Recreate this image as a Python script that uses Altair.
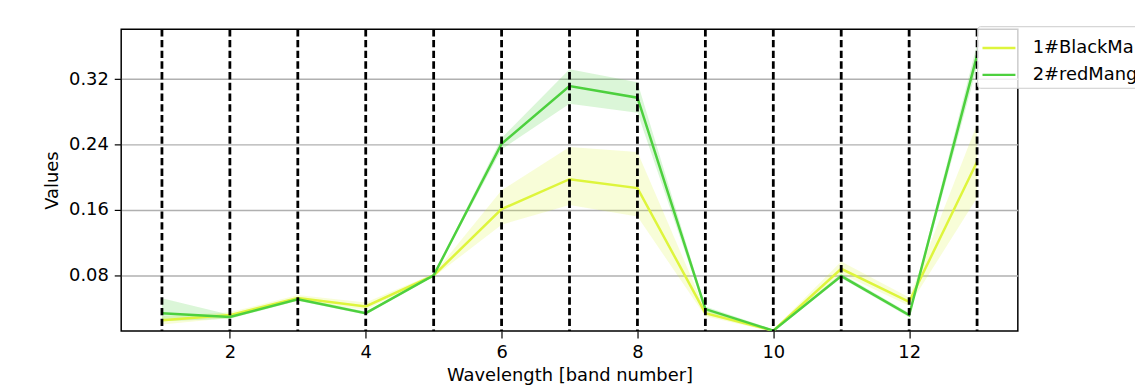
import altair as alt
import pandas as pd

bands = list(range(1, 14))
series_names = ["1#BlackMa", "2#redMang"]
series_colors = ["#def53c", "#4dd03e"]

yellow_mean = [0.0251, 0.0315, 0.0525, 0.0421, 0.080, 0.161, 0.1976, 0.1867, 0.0339, 0.0125, 0.0881, 0.0477, 0.219]
yellow_lower = [0.020, 0.028, 0.049, 0.038, 0.078, 0.142, 0.166, 0.152, 0.030, 0.011, 0.082, 0.043, 0.175]
yellow_upper = [0.030, 0.035, 0.056, 0.047, 0.082, 0.184, 0.237, 0.231, 0.038, 0.014, 0.097, 0.053, 0.265]

green_mean = [0.0339, 0.0291, 0.0509, 0.0339, 0.080, 0.241, 0.3115, 0.2973, 0.0388, 0.0125, 0.0792, 0.0315, 0.349]
green_lower = [0.024, 0.027, 0.049, 0.032, 0.079, 0.234, 0.290, 0.279, 0.036, 0.011, 0.077, 0.029, 0.335]
green_upper = [0.052, 0.032, 0.053, 0.036, 0.081, 0.248, 0.332, 0.316, 0.042, 0.014, 0.082, 0.034, 0.363]

x_ticks = [2, 4, 6, 8, 10, 12]
y_ticks = [0.08, 0.16, 0.24, 0.32]

rows = []
for name, m, lo, hi in [
    (series_names[0], yellow_mean, yellow_lower, yellow_upper),
    (series_names[1], green_mean, green_lower, green_upper),
]:
    for b, mv, l, h in zip(bands, m, lo, hi):
        rows.append(dict(band=b, series=name, mean=mv, lower=l, upper=h))
df = pd.DataFrame(rows)
vdf = pd.DataFrame({"band": bands})

FONT = "DejaVu Sans"
FS = 18
xscale = alt.Scale(domain=[0.4, 13.6], nice=False, zero=False)
yscale = alt.Scale(domain=[0.012, 0.381], nice=False, zero=False)
cscale = alt.Scale(domain=series_names, range=series_colors)

xaxis = alt.Axis(values=x_ticks, format="d", grid=False, title="Wavelength [band number]",
                 tickSize=7, tickColor="black", tickWidth=1.2, domain=False,
                 labelFontSize=FS, labelPadding=6, labelColor="black",
                 titleFontSize=FS, titleFontWeight="normal", titlePadding=5, titleColor="black")
yaxis = alt.Axis(values=y_ticks, format=".2f", grid=True, gridColor="#b0b0b0", gridWidth=1.5,
                 title="Values", tickSize=7, tickColor="black", tickWidth=1.2, domain=False,
                 labelFontSize=FS, labelPadding=6, labelColor="black",
                 titleFontSize=FS, titleFontWeight="normal", titlePadding=7, titleColor="black")

base = alt.Chart(df)
area = base.mark_area(opacity=0.2, clip=True).encode(
    x=alt.X("band:Q", scale=xscale, axis=xaxis),
    y=alt.Y("lower:Q", scale=yscale, axis=yaxis),
    y2="upper:Q",
    color=alt.Color("series:N", scale=cscale),
)
line = base.mark_line(strokeWidth=2.5, clip=True).encode(
    x=alt.X("band:Q", scale=xscale, axis=xaxis),
    y=alt.Y("mean:Q", scale=yscale, axis=yaxis),
    color=alt.Color("series:N", scale=cscale),
)
vlines = alt.Chart(vdf).mark_rule(color="black", strokeWidth=2.8, strokeDash=[7.4, 3.4]).encode(
    x=alt.X("band:Q", scale=xscale, axis=xaxis)
)

chart = alt.layer(area, line, vlines).properties(
    width=903, height=304,
    autosize=alt.AutoSizeParams(type="none"),
    padding={"left": 114, "top": 20, "right": 118, "bottom": 55},
).configure(font=FONT).configure_view(stroke="black", strokeWidth=1.5).configure_legend(
    orient="none", legendX=862, legendY=-3, title=None,
    fillColor="rgba(255,255,255,0.8)", strokeColor="#cccccc", cornerRadius=3,
    padding=4, symbolType="stroke", symbolSize=1100, symbolStrokeWidth=2.5, symbolOpacity=1,
    labelFontSize=FS, labelFont=FONT, labelColor="black", labelOffset=16, rowPadding=-2,
)

chart.save("out.html", embed_options={"renderer": "svg", "actions": False})
